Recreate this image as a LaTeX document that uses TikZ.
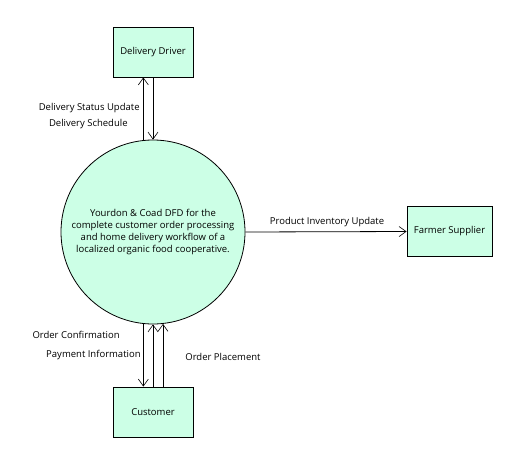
\documentclass[tikz,border=0pt]{standalone}
\usepackage{fontspec}
\setmainfont{Open Sans}
\usetikzlibrary{arrows.meta}
\definecolor{mint}{RGB}{204,255,230}
\begin{document}
\begin{tikzpicture}[x=1pt,y=-1pt,font=\fontsize{9.5}{12.3}\selectfont,line width=0.8pt,
	entity/.style={draw,fill=mint,minimum width=80pt,minimum height=50pt,inner sep=0pt},
	process/.style={draw,circle,fill=mint,minimum size=184pt,inner sep=0pt,align=center},
	flow/.style={-{Straight Barb[length=7pt,width=10pt,line width=0.6pt]}},
	lbl/.style={inner sep=1pt}]
	\useasboundingbox (0,0) rectangle (527,469);
	\node[entity] (dd) at (153,52) {Delivery Driver};
	\node[process] (proc) at (153,232) {Yourdon \& Coad DFD for the\\complete customer order processing\\and home delivery workflow of a\\localized organic food cooperative.};
	\node[entity,minimum width=85pt] (fs) at (449.5,231.5) {Farmer Supplier};
	\node[entity] (cust) at (153,412) {Customer};
	% delivery driver flows
	\draw[flow] (proc.96) -- (proc.96 |- dd.south);
	\draw[flow] (dd.south) -- (proc.north);
	\node[lbl,anchor=east] (dsu) at (141,108) {Delivery Status Update};
	\node[lbl,anchor=east] (dsc) at (129,124) {Delivery Schedule};
	% farmer supplier flow
	\draw[flow] (proc.east) -- (fs.west);
	\node[lbl] (piu) at (327,222) {Product Inventory Update};
	% customer flows
	\draw[flow] (proc.264) -- (proc.264 |- cust.north);
	\draw[flow] (cust.north) -- (proc.south);
	\draw[flow] ([xshift=10pt]cust.north) -- ([xshift=10pt]cust.north |- proc.276);
	\node[lbl,anchor=east] (oc) at (121,335) {Order Confirmation};
	\node[lbl,anchor=east] (pi) at (142,355) {Payment Information};
	\node[lbl,anchor=west] (op) at (184,357) {Order Placement};
\end{tikzpicture}
\end{document}
